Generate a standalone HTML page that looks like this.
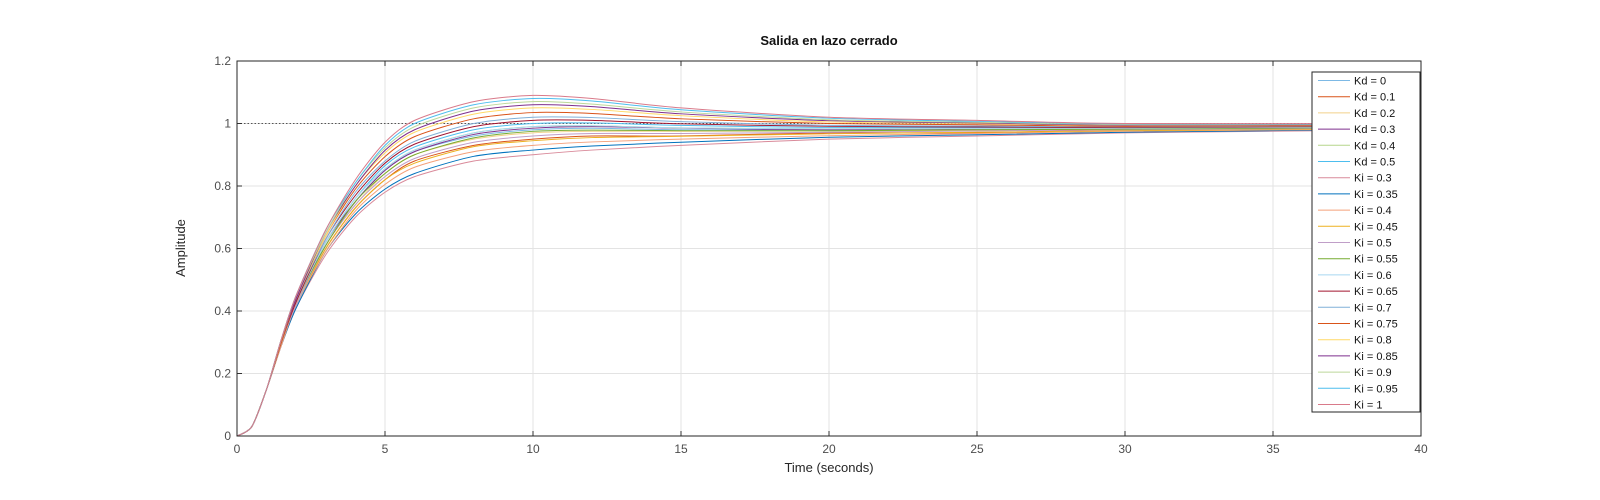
<!DOCTYPE html>
<html><head><meta charset="utf-8">
<style>
html,body{margin:0;padding:0;background:#fff;}
svg{display:block;font-family:"Liberation Sans",Arial,sans-serif;}
</style></head>
<body>
<svg id="chart" width="1600" height="500" viewBox="0 0 1600 500">
<rect width="1600" height="500" fill="#fff"/>
<g id="grid"></g>
<g id="lines"></g>
<g id="axes"></g>
<g id="legend"></g>
</svg>
<script>
const times=[0,0.5,1,1.5,2,3,4,5,6,8,10,12,15,20,25,30,40];
const labels=["Kd = 0","Kd = 0.1","Kd = 0.2","Kd = 0.3","Kd = 0.4","Kd = 0.5","Ki = 0.3","Ki = 0.35","Ki = 0.4","Ki = 0.45","Ki = 0.5","Ki = 0.55","Ki = 0.6","Ki = 0.65","Ki = 0.7","Ki = 0.75","Ki = 0.8","Ki = 0.85","Ki = 0.9","Ki = 0.95","Ki = 1"];
const colors=["#7db9e5","#d95319","#f2d08a","#7e2f8e","#b5d68c","#4dbeee","#d98a9a","#0072bd","#f4a07a","#edb120","#c09ec8","#77ac30","#a8d8f0","#a2142f","#80b0d8","#d95319","#ffd966","#7e2f8e","#bcd89a","#4dbeee","#d97a8a"];
const sKd0=[0,.03,.15,.30,.43,.61,.75,.85,.91,.96,.98,.985,.98,.98,.98,.98,.99];
const sKd1=[0,.03,.15,.30,.42,.60,.73,.82,.88,.93,.95,.96,.96,.97,.97,.98,.985];
const sKd2=[0,.03,.15,.30,.42,.61,.74,.84,.90,.95,.97,.975,.975,.976,.978,.98,.99];
const sKd3=[0,.03,.15,.30,.43,.62,.75,.85,.91,.965,.985,.99,.985,.98,.983,.985,.99];
const sKd4=[0,.03,.15,.30,.43,.62,.76,.855,.915,.97,.99,.993,.986,.983,.984,.985,.99];
const sKd5=[0,.03,.15,.30,.43,.62,.76,.865,.925,.98,1.0,1.002,.994,.987,.987,.986,.99];
const sKi30=[0,.03,.15,.29,.41,.58,.70,.78,.83,.88,.90,.915,.93,.95,.96,.97,.98];
const sKi35=[0,.03,.15,.29,.41,.59,.71,.79,.84,.895,.915,.928,.94,.956,.964,.972,.982];
const sKi40=[0,.03,.15,.29,.42,.59,.72,.805,.86,.91,.93,.941,.95,.961,.968,.975,.983];
const sKi45=[0,.03,.15,.30,.42,.60,.73,.82,.873,.926,.945,.955,.959,.967,.972,.977,.985];
const sKi50=[0,.03,.15,.30,.42,.61,.74,.83,.888,.94,.96,.968,.968,.972,.976,.98,.986];
const sKi55=[0,.03,.15,.30,.43,.61,.75,.84,.90,.954,.975,.979,.977,.977,.98,.982,.988];
const sKi60=[0,.03,.15,.30,.43,.62,.76,.855,.915,.97,.99,.993,.986,.983,.984,.985,.99];
const sKi65=[0,.03,.15,.30,.43,.63,.77,.873,.934,.99,1.01,1.01,.999,.991,.989,.987,.992];
const sKi70=[0,.03,.15,.30,.44,.63,.78,.88,.943,1.0,1.02,1.019,1.006,.994,.992,.989,.993];
const sKi75=[0,.03,.15,.30,.44,.64,.79,.894,.958,1.015,1.035,1.032,1.015,1.0,.996,.991,.994];
const sKi80=[0,.03,.15,.31,.44,.64,.80,.906,.972,1.03,1.05,1.045,1.025,1.005,1.0,.994,.996];
const sKi85=[0,.03,.15,.31,.44,.65,.80,.914,.98,1.04,1.06,1.054,1.031,1.009,1.002,.995,.997];
const sKi90=[0,.03,.15,.31,.45,.65,.81,.922,.99,1.05,1.07,1.062,1.037,1.012,1.004,.997,.998];
const sKi95=[0,.03,.15,.31,.45,.66,.81,.93,1.0,1.06,1.08,1.072,1.044,1.017,1.007,.999,.999];
const sKi100=[0,.03,.15,.31,.45,.66,.82,.94,1.01,1.07,1.09,1.08,1.05,1.02,1.01,1.0,1.0];
const series=[sKd0,sKd1,sKd2,sKd3,sKd4,sKd5,sKi30,sKi35,sKi40,sKi45,sKi50,sKi55,sKi60,sKi65,sKi70,sKi75,sKi80,sKi85,sKi90,sKi95,sKi100];
const xTicks=[0,5,10,15,20,25,30,35,40];
const yTicks=[0,0.2,0.4,0.6,0.8,1,1.2];
const yTickLabels=["0","0.2","0.4","0.6","0.8","1","1.2"];

const L=237,R=1421,T=61,B=436;
const xS=t=>L+(t-0)/40*(R-L);
const yS=v=>B-(v/1.2)*(B-T);
const NS="http://www.w3.org/2000/svg";
function mk(tag,attrs,parent){const e=document.createElementNS(NS,tag);for(const k in attrs)e.setAttribute(k,attrs[k]);parent.appendChild(e);return e;}
const grid=document.getElementById('grid'),axes=document.getElementById('axes'),lines=document.getElementById('lines'),leg=document.getElementById('legend');

xTicks.forEach(t=>{
  if(t>0&&t<40){const g=mk('line',{x1:xS(t),x2:xS(t),y1:T,y2:B,stroke:'#e3e3e3','stroke-width':1},grid);
  
  }
  const tk=mk('text',{x:xS(t),y:B+17,'text-anchor':'middle','font-size':12,fill:'#4d4d4d'},axes);
  tk.textContent=t;
  
  
  mk('line',{x1:xS(t),x2:xS(t),y1:B,y2:B-5,stroke:'#333'},axes);
  mk('line',{x1:xS(t),x2:xS(t),y1:T,y2:T+5,stroke:'#333'},axes);
});
yTicks.forEach((v,i)=>{
  if(v>0&&v<1.2){const g=mk('line',{x1:L,x2:R,y1:yS(v),y2:yS(v),stroke:'#e3e3e3','stroke-width':1},grid);
  
  }
  const tk=mk('text',{x:L-6,y:yS(v)+4,'text-anchor':'end','font-size':12,fill:'#4d4d4d'},axes);
  tk.textContent=yTickLabels[i];
  
  
  mk('line',{x1:L,x2:L+5,y1:yS(v),y2:yS(v),stroke:'#333'},axes);
  mk('line',{x1:R,x2:R-5,y1:yS(v),y2:yS(v),stroke:'#333'},axes);
});
const ref=mk('line',{x1:L,x2:R,y1:yS(1),y2:yS(1),stroke:'#555','stroke-dasharray':'1.5,2','stroke-width':1},grid);



function pathFor(arr){
  const p=arr.map((v,i)=>[xS(times[i]),yS(v)]);
  let d='M'+p[0][0]+','+p[0][1];
  for(let i=0;i<p.length-1;i++){
    const p0=p[Math.max(0,i-1)],p1=p[i],p2=p[i+1],p3=p[Math.min(p.length-1,i+2)];
    const c1x=p1[0]+(p2[0]-p0[0])/6*0.8,c1y=p1[1]+(p2[1]-p0[1])/6*0.8;
    const c2x=p2[0]-(p3[0]-p1[0])/6*0.8,c2y=p2[1]-(p3[1]-p1[1])/6*0.8;
    d+=` C${c1x},${c1y} ${c2x},${c2y} ${p2[0]},${p2[1]}`;
  }
  return d;
}
series.forEach((s,i)=>{
  const pth=mk('path',{d:pathFor(s),fill:'none',stroke:colors[i],'stroke-width':1},lines);
  
  
});

const frame=mk('rect',{x:L,y:T,width:R-L,height:B-T,fill:'none',stroke:'#262626','stroke-width':1},axes);



const title=mk('text',{x:829,y:45,'text-anchor':'middle','font-size':13,'font-weight':'bold',fill:'#111'},axes);
title.textContent='Salida en lazo cerrado';


const xl=mk('text',{x:829,y:472,'text-anchor':'middle','font-size':13,fill:'#262626'},axes);
xl.textContent='Time (seconds)';


const yl=mk('text',{x:0,y:0,'text-anchor':'middle','font-size':13,fill:'#262626',transform:'translate(185,248) rotate(-90)'},axes);
yl.textContent='Amplitude';



const lb=mk('rect',{x:1312,y:72,width:108,height:340,fill:'#fff',stroke:'#262626','stroke-width':1},leg);


labels.forEach((lab,i)=>{
  const y=80.5+i*16.2;
  const g=mk('g',{},leg);
  
  
  mk('line',{x1:1318,x2:1350,y1:y,y2:y,stroke:colors[i],'stroke-width':1},g);
  const t=mk('text',{x:1354,y:y+4,'font-size':11,fill:'#111'},g);
  t.textContent=lab;
});
</script>
</body></html>
